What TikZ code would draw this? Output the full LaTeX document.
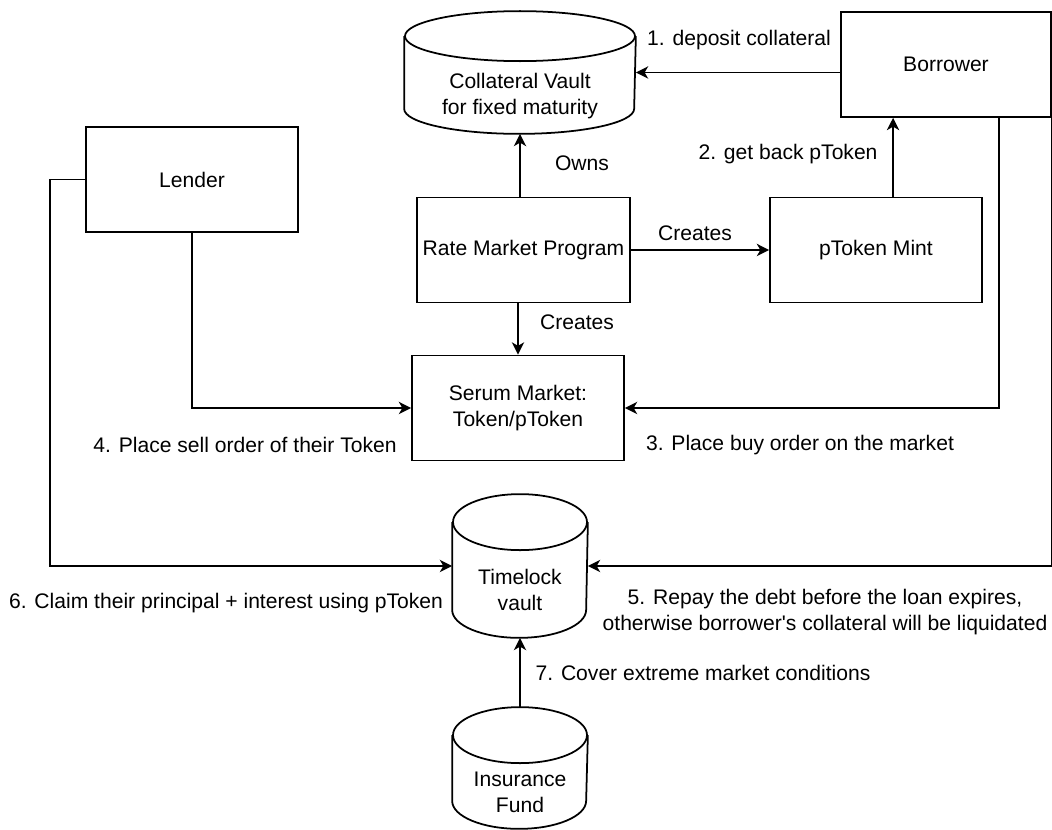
\documentclass[tikz,border=0pt]{standalone}
\usepackage{fontspec}
\setmainfont{Liberation Sans}
\usetikzlibrary{arrows.meta,calc}
\tikzset{>={Stealth[length=7pt,width=7pt,inset=2pt]}}

\begin{document}
\begin{tikzpicture}[x=0.02cm, y=-0.02cm, line width=1pt,
                    font=\fontsize{12}{14.8}\selectfont]

  \tikzset{box/.style={draw, minimum width=4.24cm, minimum height=2.1cm,
                       align=center},
           store/.style={inner sep=0pt, minimum width=2.68cm},
           lbl/.style={inner sep=0pt, align=center}}

  \useasboundingbox (0,0) rectangle (1052,830);

  % parties
  \node[box] (lender) at (192,179.5) {Lender};
  \node[box, minimum width=4.2cm] (borrower) at (946,64.5) {Borrower};

  % program and markets
  \node[box] (rmp) at (523.5,250) {Rate Market Program};
  \node[box] (mint) at (876,250) {pToken Mint};
  \node[box] (serum) at (518,408) {Serum Market:\\Token/pToken};

  % vaults (outline drawn below)
  \node[store, minimum width=4.6cm, minimum height=2.42cm] (vault) at (520,72.5) {};
  \node[store, minimum height=2.84cm] (timelock) at (520,566) {};
  \node[store, minimum height=2.4cm] (fund) at (520,768) {};
  \foreach \s/\rx/\ry in {vault/115/25, timelock/67/28, fund/67/28} {
    \draw ($(\s.north west)+(0,\ry)$) -- ($(\s.south west)+(0,-\ry)$)
      arc[start angle=180, end angle=0, x radius=\rx, y radius=\ry]
      -- ($(\s.north east)+(0,\ry)$);
    \draw ($(\s.north)+(0,\ry)$) ellipse[x radius=\rx, y radius=\ry];
  }
  \node[lbl] (vaulttxt) at (520,96) {Collateral Vault\\for fixed maturity};
  \node[lbl] (timelocktxt) at (520,590) {Timelock\\vault};
  \node[lbl] (fundtxt) at (520,792) {Insurance\\Fund};

  \coordinate (bq) at ($(borrower.south west)!.25!(borrower.south east)$);
  \coordinate (b3) at ($(borrower.south west)!.75!(borrower.south east)$);

  % flows
  \draw[->] (borrower.west |- vault.east) -- (vault.east);
  \draw[->] (mint.north -| bq) -- (bq);
  \draw[->] (rmp.north -| vault.south) -- (vault.south);
  \draw[->] (rmp.east) -- (mint.west);
  \draw[->] (rmp.south -| serum.north) -- (serum.north);
  \draw[->] (b3) |- (serum.east);
  \draw[->] (lender.south) |- (serum.west);
  \draw[->] (borrower.south east) |- (timelock.east);
  \draw[->] (lender.west) -- ++(-35,0) |- (timelock.west);
  \draw[->] (fund.north) -- (timelock.south);

  % labels
  \node[lbl] (l1) at (739,40) {1. deposit collateral};
  \node[lbl] (l2) at (788,154) {2. get back pToken};
  \node[lbl] (lown) at (582,163) {Owns};
  \node[lbl] (lcr1) at (695,233) {Creates};
  \node[lbl] (lcr2) at (577,322) {Creates};
  \node[lbl] (l3) at (800,445) {3. Place buy order on the market};
  \node[lbl] (l4) at (245,445) {4. Place sell order of their Token};
  \node[lbl] (l5) at (825,612) {5. Repay the debt before the loan expires,\\
    otherwise borrower\textquotesingle s collateral will be liquidated};
  \node[lbl] (l6) at (226,603) {6. Claim their principal + interest using pToken};
  \node[lbl] (l7) at (703,673) {7. Cover extreme market conditions};

\end{tikzpicture}
\end{document}
